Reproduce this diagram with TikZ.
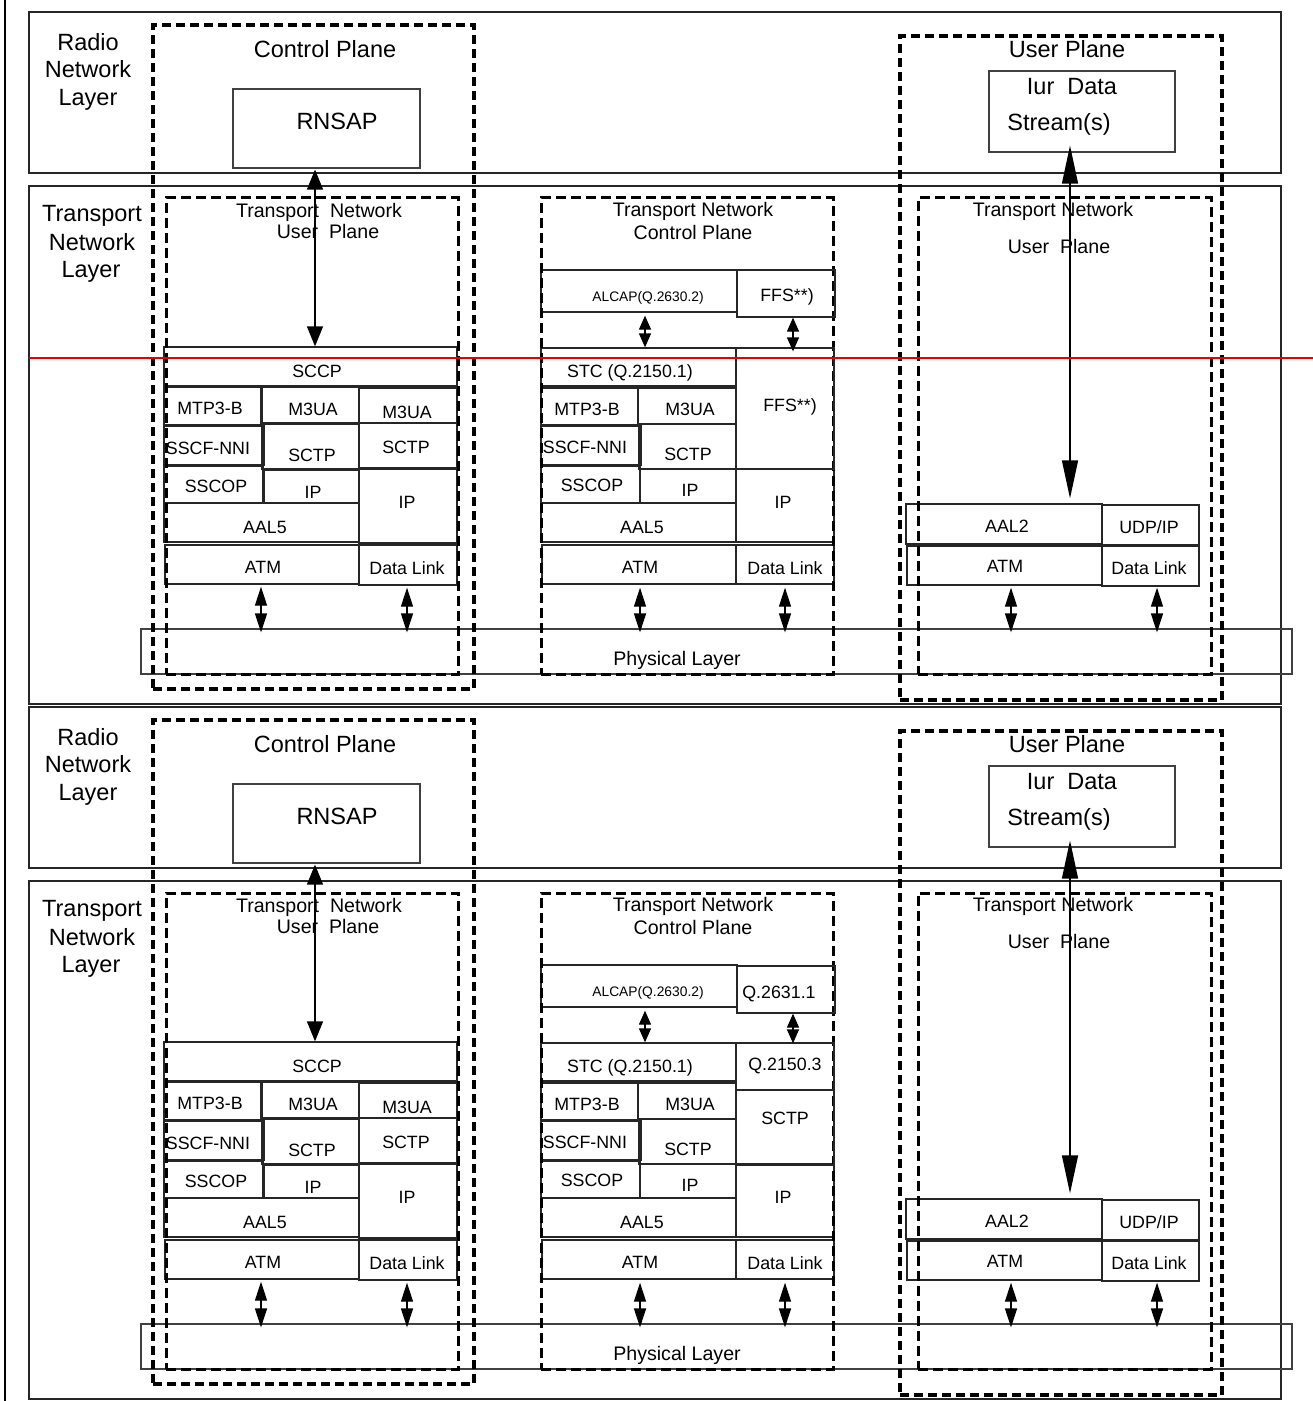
\documentclass[tikz,border=0pt]{standalone}
\usepackage{fontspec}
\setmainfont{Liberation Sans}
\usetikzlibrary{arrows.meta,fit}
\definecolor{redline}{RGB}{232,0,0}
\tikzset{
  box/.style={draw=black!85, line width=1.3bp, inner sep=0pt},
  obox/.style={draw=black!85, line width=1.9bp, inner sep=0pt},
  gbox/.style={draw=black!75, line width=1.2bp, inner sep=0pt},
  dbox/.style={draw=black, line width=3.2bp, dash pattern=on 9bp off 5bp, inner sep=0pt},
  ibox/.style={draw=black, line width=3bp, dash pattern=on 10bp off 5bp, inner sep=0pt},
  lb/.style={inner sep=0pt, text depth=0pt, anchor=center},
  fbig/.style={lb, font=\fontsize{23.5bp}{28bp}\selectfont, text height=16.9bp},
  fmid/.style={lb, font=\fontsize{19.6bp}{23bp}\selectfont, text height=14.1bp},
  fsm/.style={lb, font=\fontsize{17.8bp}{21bp}\selectfont, text height=12.8bp},
  ftiny/.style={lb, font=\fontsize{13.8bp}{16bp}\selectfont, text height=9.9bp},
  sarr/.style={line width=1.3bp, arrows={Triangle[length=19bp,width=12bp]-Triangle[length=19bp,width=12bp]}},
  carr/.style={line width=1.3bp, arrows={Triangle[length=14bp,width=12bp]-Triangle[length=14bp,width=12bp]}},
  marr/.style={line width=1.3bp, arrows={Triangle[length=20bp,width=16bp]-Triangle[length=20bp,width=16bp]}},
  larr/.style={line width=1.3bp, arrows={Triangle[length=38bp,width=16bp]-Triangle[length=38bp,width=16bp]}},
}
\newcommand\bx[4][box]{\node[#1, fit={#3 #4}] (#2) {};}
\newcommand\commonlayers{%
  % outer layer boxes
  \bx[obox]{rnl}{(29,12)}{(1281,173)}
  \bx[obox]{tnl}{(29,186)}{(1281,704)}
  \node[fbig] (rnl1) at (88,42) {Radio};
  \node[fbig] (rnl2) at (88,69) {Network};
  \node[fbig] (rnl3) at (88,97) {Layer};
  \node[fbig] (tnl1) at (92,213) {Transport};
  \node[fbig] (tnl2) at (92,242) {Network};
  \node[fbig] (tnl3) at (91,269) {Layer};
  % physical layer
  \bx[gbox]{phy}{(141,629)}{(1292,674)}
  \node[fmid] (phyt) at (677,658) {Physical Layer};
  % control plane
  \node[fbig] (cpt) at (325,49) {Control Plane};
  \bx[gbox]{rnsap}{(233,89)}{(420,168)}
  \node[fbig] (rnsapt) at (337,121) {RNSAP};
  \node[fmid] (tnupla) at (319,210) {Transport\ \ Network};
  \node[fmid] (tnuplb) at (328,231) {User\ \ Plane};
  \bx{sccp}{(164,347)}{(457,386)}
  \node[fsm] (sccpt) at (317,371) {SCCP};
  \bx{lmtp}{(164,387)}{(261,425)}
  \node[fsm] (lmtpt) at (210,408) {MTP3-B};
  \bx{lmua}{(262,387)}{(359,423)}
  \node[fsm] (lmuat) at (313,409) {M3UA};
  \bx{lmub}{(359,388)}{(457,423)}
  \node[fsm] (lmubt) at (407,412) {M3UA};
  \bx{lsscf}{(164,426)}{(264,465)}
  \node[fsm] (lsscft) at (208,448) {SSCF-NNI};
  \bx{lsca}{(262,424)}{(359,469)}
  \node[fsm] (lscat) at (312,455) {SCTP};
  \bx{lscb}{(359,423)}{(457,468)}
  \node[fsm] (lscbt) at (406,447) {SCTP};
  \bx{lsscop}{(164,466)}{(263,503)}
  \node[fsm] (lsscopt) at (216,486) {SSCOP};
  \bx{lipa}{(264,470)}{(359,503)}
  \node[fsm] (lipat) at (313,492) {IP};
  \bx{lipb}{(359,469)}{(457,543)}
  \node[fsm] (lipbt) at (407,502) {IP};
  \bx{laal}{(164,503)}{(359,542)}
  \node[fsm] (laalt) at (265,527) {AAL5};
  \bx{latm}{(165,545)}{(359,584)}
  \node[fsm] (latmt) at (263,567) {ATM};
  \bx{ldl}{(359,545)}{(457,585)}
  \node[fsm] (ldlt) at (407,568) {Data Link};
  % transport network control plane
  \node[fmid] (tncpa) at (693,209) {Transport Network};
  \node[fmid] (tncpb) at (693,232) {Control Plane};
  \bx{alcap}{(541,270)}{(737,312)}
  \node[ftiny] (alcapt) at (648,297) {ALCAP(Q.2630.2)};
  \bx{stc}{(541,348)}{(736,386)}
  \node[fsm] (stct) at (630,371) {STC (Q.2150.1)};
  \bx{mmtp}{(541,388)}{(638,425)}
  \node[fsm] (mmtpt) at (587,409) {MTP3-B};
  \bx{mmua}{(638,388)}{(736,424)}
  \node[fsm] (mmuat) at (690,409) {M3UA};
  \bx{msscf}{(541,426)}{(641,465)}
  \node[fsm] (msscft) at (585,447) {SSCF-NNI};
  \bx{msct}{(639,424)}{(736,469)}
  \node[fsm] (msctt) at (688,454) {SCTP};
  \bx{msscop}{(541,466)}{(640,503)}
  \node[fsm] (msscopt) at (592,485) {SSCOP};
  \bx{mip}{(640,469)}{(736,503)}
  \node[fsm] (mipt) at (690,490) {IP};
  \bx{maal}{(541,503)}{(736,542)}
  \node[fsm] (maalt) at (642,527) {AAL5};
  \bx{mipr}{(736,469)}{(834,542)}
  \node[fsm] (mriprt) at (783,502) {IP};
  \bx{matm}{(542,545)}{(736,584)}
  \node[fsm] (matmt) at (640,567) {ATM};
  \bx{mdl}{(736,545)}{(834,584)}
  \node[fsm] (mdlt) at (785,568) {Data Link};
  % user plane
  \node[fbig] (upt) at (1067,49) {User Plane};
  \bx[gbox]{iur}{(989,71)}{(1175,152)}
  \node[fbig] (iura) at (1072,86) {Iur\ \ Data};
  \node[fbig] (iurb) at (1059,122) {Stream(s)};
  \node[fmid] (tnupra) at (1053,209) {Transport Network};
  \node[fmid] (tnuprb) at (1059,246) {User\ \ Plane};
  \bx{raal}{(906,504)}{(1102,544)}
  \node[fsm] (raalt) at (1007,526) {AAL2};
  \bx{rudp}{(1102,505)}{(1199,545)}
  \node[fsm] (rudpt) at (1149,527) {UDP/IP};
  \bx{ratm}{(907,546)}{(1102,585)}
  \node[fsm] (ratmt) at (1005,566) {ATM};
  \bx{rdl}{(1102,546)}{(1199,586)}
  \node[fsm] (rdlt) at (1149,568) {Data Link};
  % dashed planes
  \bx[dbox]{cp}{(153,25)}{(474,689)}
  \bx[dbox]{up}{(900,36)}{(1222,700)}
  \bx[ibox]{tnupl}{(166,198)}{(458,674)}
  \bx[ibox]{tncp}{(541,198)}{(833,674)}
  \bx[ibox]{tnupr}{(918,198)}{(1211,674)}
  % arrows
  \coordinate (xr) at (315,0);
  \coordinate (xa) at (261,0);
  \coordinate (xb) at (407,0);
  \coordinate (xc) at (640,0);
  \coordinate (xd) at (785,0);
  \coordinate (xe) at (1011,0);
  \coordinate (xf) at (1157,0);
  \coordinate (xg) at (645,0);
  \coordinate (xh) at (793,0);
  \coordinate (xi) at (1070,0);
  \draw[marr] ([yshift=-1bp]rnsap.south -| xr) -- (sccp.north -| xr);
  \draw[larr] ([yshift=7bp]iur.south -| xi) -- ([yshift=5bp]raal.north -| xi);
  \draw[carr] ([yshift=-3bp]alcap.south -| xg) -- (stc.north -| xg);
  \draw[sarr] ([yshift=-2bp]latm.south -| xa) -- ([yshift=-4bp]phy.north -| xa);
  \draw[sarr] ([yshift=-2bp]ldl.south -| xb) -- ([yshift=-4bp]phy.north -| xb);
  \draw[sarr] ([yshift=-3bp]matm.south -| xc) -- ([yshift=-4bp]phy.north -| xc);
  \draw[sarr] ([yshift=-3bp]mdl.south -| xd) -- ([yshift=-4bp]phy.north -| xd);
  \draw[sarr] ([yshift=-2bp]ratm.south -| xe) -- ([yshift=-4bp]phy.north -| xe);
  \draw[sarr] ([yshift=-1bp]rdl.south -| xf) -- ([yshift=-4bp]phy.north -| xf);
}
\begin{document}
\begin{tikzpicture}[x=1bp,y={(0,-1bp)}]
\useasboundingbox (0,0) rectangle (1313,1401);
% left margin line
\coordinate (lt) at (5,0);
\coordinate (lb) at (5,1401);
\draw[line width=2bp] (lt) -- (lb);
% upper figure
\begin{scope}[name prefix=a-]
  \commonlayers
  \bx{ffsa}{(737,270)}{(835,317)}
  \node[fsm] (ffsat) at (787,295) {FFS**)};
  \bx{ffsb}{(736,348)}{(834,469)}
  \node[fsm] (ffsbt) at (790,405) {FFS**)};
  \draw[carr] (ffsa.south -| xh) -- ([yshift=-4bp]ffsb.north -| xh);
  \coordinate (rl1) at (29,358);
  \coordinate (rl2) at (1313,358);
  \draw[redline, line width=1.5bp] (rl1) -- (rl2);
\end{scope}
% lower figure
\begin{scope}[yshift=-695bp, name prefix=b-]
  \commonlayers
  \bx{qa}{(737,271)}{(835,318)}
  \node[fsm] (qat) at (779,297) {Q.2631.1};
  \bx{qb}{(736,348)}{(834,395)}
  \node[fsm] (qbt) at (785,369) {Q.2150.3};
  \bx{qc}{(736,395)}{(834,470)}
  \node[fsm] (qct) at (785,423) {SCTP};
  \draw[carr] (qa.south -| xh) -- ([yshift=-1bp]qb.north -| xh);
\end{scope}
\end{tikzpicture}
\end{document}
